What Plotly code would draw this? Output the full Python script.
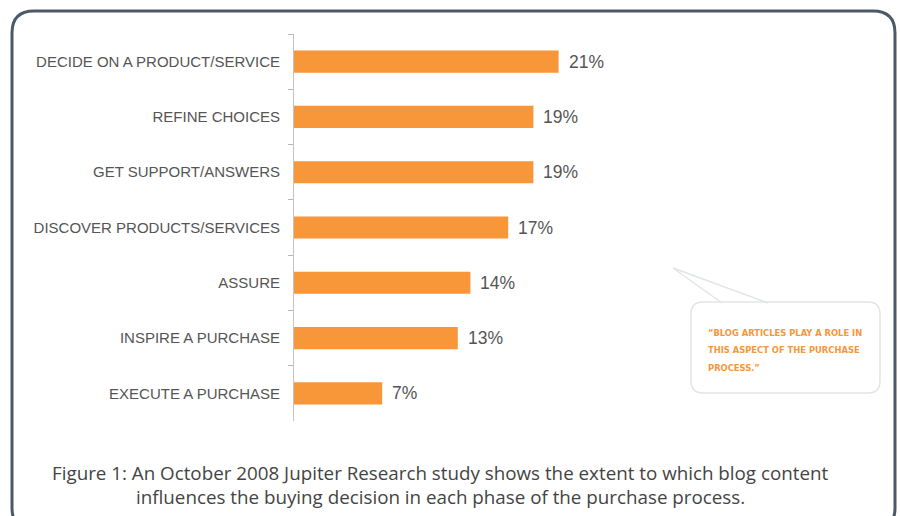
import plotly.graph_objects as go

categories = [
    "DECIDE ON A PRODUCT/SERVICE",
    "REFINE CHOICES",
    "GET SUPPORT/ANSWERS",
    "DISCOVER PRODUCTS/SERVICES",
    "ASSURE",
    "INSPIRE A PURCHASE",
    "EXECUTE A PURCHASE",
]
values = [21, 19, 19, 17, 14, 13, 7]
value_labels = [f"{v}%" for v in values]
bubble_lines = [
    "\u201cBLOG ARTICLES PLAY A ROLE IN",
    "THIS ASPECT OF THE PURCHASE",
    "PROCESS.\u201d",
]
caption_lines = [
    "Figure 1: An October 2008 Jupiter Research study shows the extent to which blog content",
    "influences the buying decision in each phase of the purchase process.",
]

W, H = 900, 516
L, R, T, B = 294, 103, 34, 95
PW, PH = W - L - R, H - T - B


def fx(px):
    return (px - L) / PW


def fy(py):
    return 1 - (py - T) / PH


def rounded_rect(x0, y0, x1, y1, r):
    pts = [
        f"M {fx(x0 + r)},{fy(y0)}",
        f"L {fx(x1 - r)},{fy(y0)}",
        f"Q {fx(x1)},{fy(y0)} {fx(x1)},{fy(y0 + r)}",
        f"L {fx(x1)},{fy(y1 - r)}",
        f"Q {fx(x1)},{fy(y1)} {fx(x1 - r)},{fy(y1)}",
        f"L {fx(x0 + r)},{fy(y1)}",
        f"Q {fx(x0)},{fy(y1)} {fx(x0)},{fy(y1 - r)}",
        f"L {fx(x0)},{fy(y0 + r)}",
        f"Q {fx(x0)},{fy(y0)} {fx(x0 + r)},{fy(y0)}",
        "Z",
    ]
    return " ".join(pts)


ORANGE = "#F8963A"

fig = go.Figure(
    go.Bar(
        x=values,
        y=categories,
        orientation="h",
        marker=dict(color=ORANGE, line=dict(width=0)),
        width=0.4,
        hoverinfo="skip",
    )
)

annotations = []
for c, v, t in zip(categories, values, value_labels):
    annotations.append(
        dict(
            x=v, y=c, xref="x", yref="y", text=t, showarrow=False,
            xanchor="left", yanchor="middle", xshift=8,
            font=dict(family="Liberation Sans, Arial, sans-serif", size=17.5, color="#555555"),
        )
    )

for i, line in enumerate(bubble_lines):
    annotations.append(
        dict(
            x=fx(706), y=fy(332 + i * 17.5), xref="paper", yref="paper", text=line,
            showarrow=False, xanchor="left", yanchor="middle",
            font=dict(family="DejaVu Sans Condensed, sans-serif", size=9.3,
                      color="#F8963A", weight="bold"),
        )
    )

for i, line in enumerate(caption_lines):
    annotations.append(
        dict(
            x=fx(440), y=fy(473 + i * 24.5), xref="paper", yref="paper", text=line,
            showarrow=False, xanchor="center", yanchor="middle",
            font=dict(family="Open Sans, sans-serif", size=18.8, color="#444444"),
        )
    )

shapes = [
    # outer frame
    dict(type="path", xref="paper", yref="paper",
         path=rounded_rect(12, 11, 895, 530, 22),
         line=dict(color="#4B5A66", width=3), fillcolor="rgba(0,0,0,0)", layer="below"),
    # bubble tail
    dict(type="path", xref="paper", yref="paper",
         path=f"M {fx(722)},{fy(303)} L {fx(673)},{fy(268)} L {fx(768)},{fy(303)}",
         line=dict(color="#E2E5E6", width=1.5), fillcolor="rgba(0,0,0,0)"),
    # bubble body
    dict(type="path", xref="paper", yref="paper",
         path=rounded_rect(691, 302, 880, 393, 12),
         line=dict(color="#E2E5E6", width=1.5), fillcolor="rgba(0,0,0,0)"),
]

fig.update_layout(
    width=W, height=H,
    margin=dict(l=L, r=R, t=T, b=B),
    paper_bgcolor="white", plot_bgcolor="white",
    showlegend=False,
    xaxis=dict(visible=False, range=[0, PW / 12.6], fixedrange=True),
    yaxis=dict(
        type="category",
        autorange="reversed",
        showline=True, linecolor="#C4C4C4", linewidth=1,
        ticks="outside", ticklen=5, tickcolor="#B8B8B8", tickwidth=1,
        tickson="boundaries",
        showgrid=False, zeroline=False,
        ticklabelstandoff=10,
        tickfont=dict(family="Liberation Sans, Arial, sans-serif", size=15, color="#555555"),
    ),
    annotations=annotations,
    shapes=shapes,
)

fig.write_html("out.html")
